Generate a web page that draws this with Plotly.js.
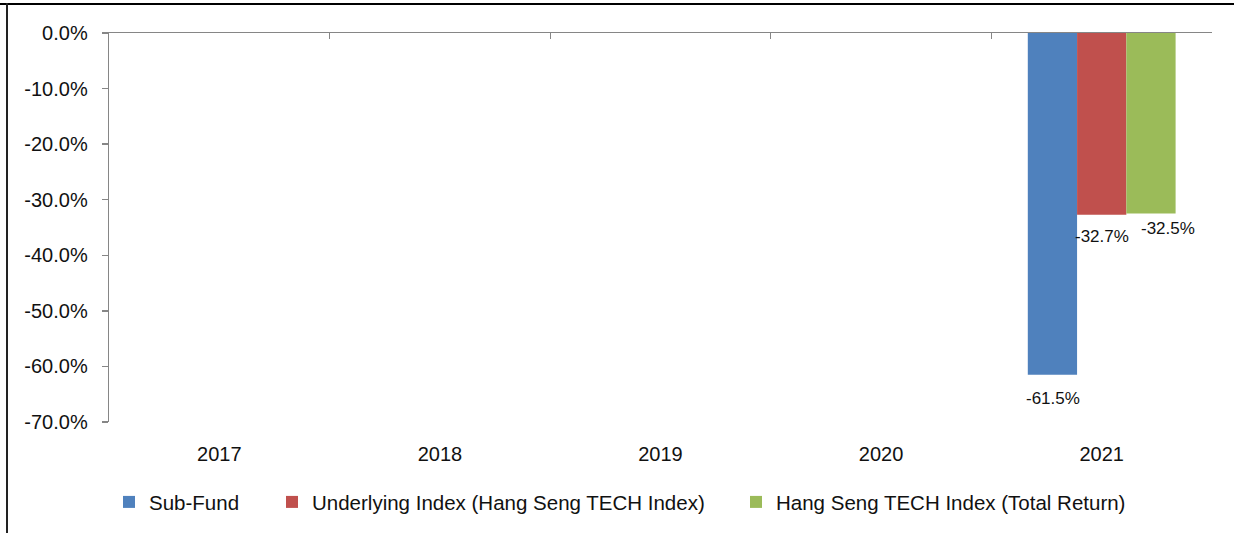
<!DOCTYPE html>
<html>
<head>
<meta charset="utf-8">
<script src="https://cdn.plot.ly/plotly-3.0.1.min.js"></script>
<style>
  html, body { margin: 0; padding: 0; background: #fff; }
  #wrap { position: relative; width: 1234px; height: 533px; overflow: hidden; }
  #chart { position: absolute; left: 0; top: 0; width: 1234px; height: 533px; }
  #topline { position: absolute; left: 0; top: 3px; width: 1234px; height: 0; border-top: 2px solid #000; pointer-events: none; }
  #leftline { position: absolute; left: 6px; top: 3px; width: 0; height: 540px; border-left: 2px solid #222; pointer-events: none; }
</style>
</head>
<body>
<div id="wrap">
  <div id="chart"></div>
  <div id="topline"></div>
  <div id="leftline"></div>
</div>
<script>
const years = ['2017', '2018', '2019', '2020', '2021'];
const seriesNames = ['Sub-Fund', 'Underlying Index (Hang Seng TECH Index)', 'Hang Seng TECH Index (Total Return)'];
const subFund = [null, null, null, null, -61.5];
const underlyingIndex = [null, null, null, null, -32.7];
const totalReturnIndex = [null, null, null, null, -32.5];
const yTicks = [0, -10, -20, -30, -40, -50, -60, -70];

const colors = ['#4F81BD', '#C0504D', '#9BBB59'];
const seriesValues = [subFund, underlyingIndex, totalReturnIndex];
const FONT = 'Liberation Sans, Arial, sans-serif';
const TXT = '#111';
const legendIds = ['legend', 'legend2', 'legend3'];
const legendLeftPx = [109, 272, 736];

const traces = seriesValues.map((vals, i) => ({
  type: 'bar',
  name: seriesNames[i],
  x: years,
  y: vals,
  legend: legendIds[i],
  marker: { color: colors[i], line: { width: 0 } },
  hoverinfo: 'skip'
}));
// overlay axis for top line with category-boundary ticks
traces.push({
  type: 'scatter', x: [], y: [], xaxis: 'x2', yaxis: 'y',
  showlegend: false, hoverinfo: 'skip'
});

// label offsets (styling only)
const labelShift = [
  { xs: -49, ys: -24 },
  { xs: 0, ys: -22 },
  { xs: 66, ys: -15 }
];
const annotations = [];
seriesValues.forEach((vals, i) => {
  vals.forEach((v, j) => {
    if (v === null) return;
    annotations.push({
      x: j, y: v, xref: 'x', yref: 'y',
      text: v.toFixed(1) + '%', showarrow: false,
      xshift: labelShift[i].xs, yshift: labelShift[i].ys,
      xanchor: 'center', yanchor: 'middle',
      font: { family: FONT, size: 17, color: TXT }
    });
  });
});

const layout = {
  width: 1234, height: 533,
  margin: { l: 109, r: 22, t: 33, b: 111 },
  paper_bgcolor: '#fff', plot_bgcolor: '#fff',
  barmode: 'group', bargap: 0.33, bargroupgap: 0,
  showlegend: true,
  font: { family: FONT, size: 20, color: TXT },
  xaxis: {
    type: 'category', categoryarray: years, categoryorder: 'array',
    range: [-0.5, years.length - 0.5],
    showline: false, ticks: '', showgrid: false, zeroline: false,
    tickfont: { family: FONT, size: 20, color: TXT },
    ticklabelstandoff: 18
  },
  xaxis2: {
    overlaying: 'x', side: 'top', anchor: 'y', type: 'linear',
    range: [-0.5, years.length - 0.5],
    tickmode: 'array', tickvals: years.map((y, i) => i + 0.5),
    ticks: 'inside', ticklen: 6, tickcolor: '#868686', tickwidth: 1.3,
    showline: true, linecolor: '#868686', linewidth: 1.3,
    showticklabels: false, showgrid: false, zeroline: false
  },
  yaxis: {
    range: [-70, 0], tickmode: 'array', tickvals: yTicks,
    ticktext: yTicks.map(v => v.toFixed(1) + '%'),
    showline: true, linecolor: '#868686', linewidth: 1.3,
    ticks: 'outside', ticklen: 6, tickcolor: '#868686', tickwidth: 1.3,
    showgrid: false, zeroline: false,
    tickfont: { family: FONT, size: 20, color: TXT },
    ticklabelstandoff: 10
  },
  annotations: annotations
};
legendIds.forEach((id, i) => {
  layout[id] = {
    orientation: 'h', xref: 'container', yref: 'container',
    x: legendLeftPx[i] / 1234, xanchor: 'left', y: 0.058, yanchor: 'middle',
    font: { family: FONT, size: 20.5, color: TXT },
    bgcolor: 'rgba(0,0,0,0)', borderwidth: 0
  };
});

Plotly.newPlot('chart', traces, layout, { staticPlot: true, displayModeBar: false });
</script>
</body>
</html>
